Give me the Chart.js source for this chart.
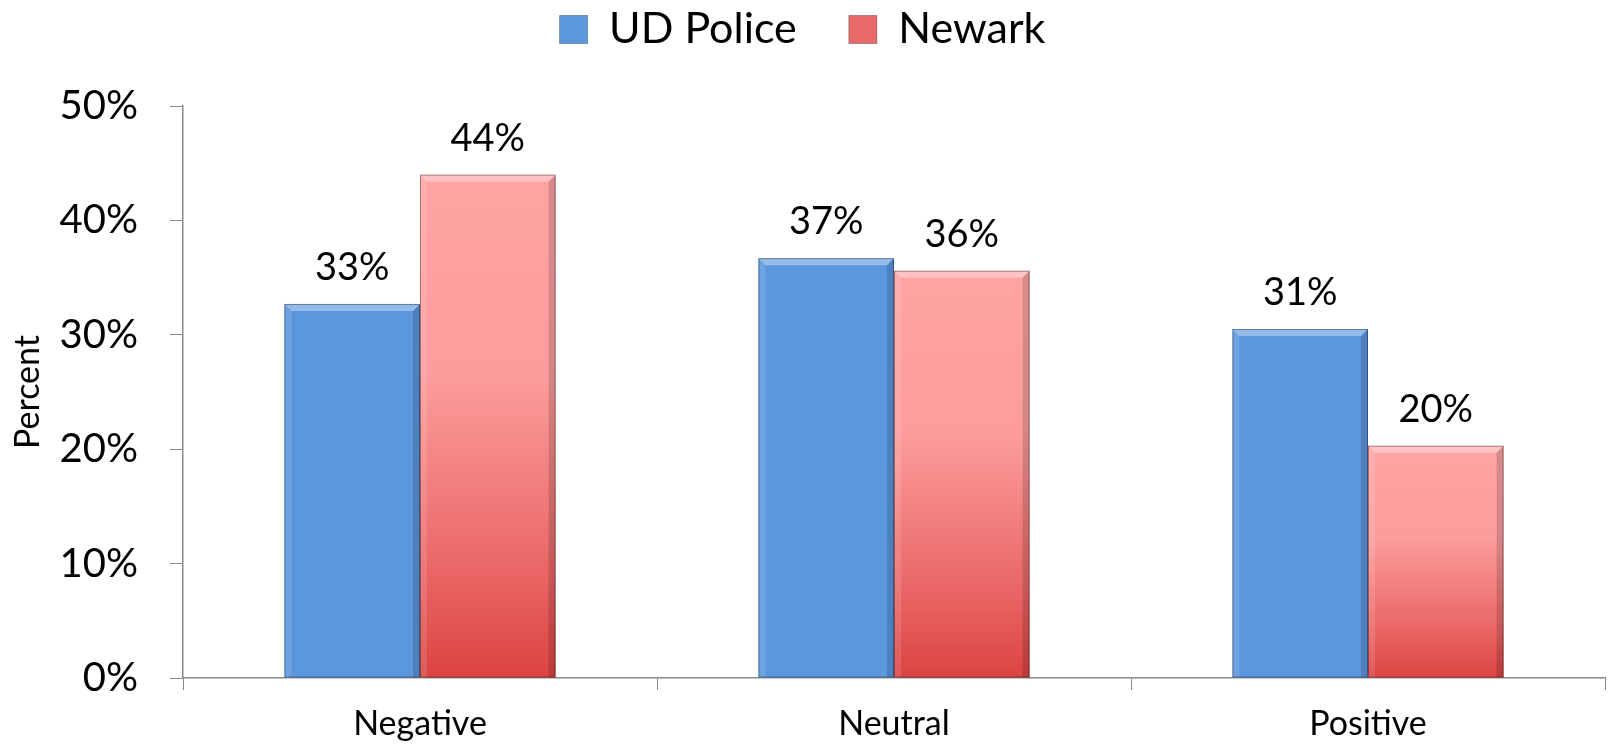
<!DOCTYPE html>
<html>
<head>
<meta charset="utf-8">
<script src="https://cdn.jsdelivr.net/npm/chart.js@4"></script>
<style>
  html, body { margin: 0; padding: 0; background: #fff; }
  #wrap { width: 1608px; height: 745px; }
</style>
</head>
<body>
<div id="wrap"><canvas id="myChart" width="1608" height="745"></canvas></div>
<script>
"use strict";

const categories = ['Negative', 'Neutral', 'Positive'];
const udPolice = [32.7, 36.7, 30.5];
const newark = [44.0, 35.6, 20.3];
const yTicks = [0, 10, 20, 30, 40, 50];

const fontName = 'Lato, "Liberation Sans", sans-serif';

// red bars go pink at top to red at bottom, one gradient per bar
function redFill(context) {
    const chart = context.chart;
    if (!chart.chartArea || context.type !== 'data') {
        return '#f08080';
    }
    const yScale = chart.scales.y;
    const top = yScale.getPixelForValue(context.raw);
    const base = yScale.getPixelForValue(0);
    const g = chart.ctx.createLinearGradient(0, top, 0, base);
    g.addColorStop(0, '#ffa3a3');
    g.addColorStop(0.4, '#fc9c9c');
    g.addColorStop(0.8, '#e96464');
    g.addColorStop(1, '#db4343');
    return g;
}

// bevel edges like the office style bars
const bevel = {
    id: 'bevel',
    afterDatasetsDraw(chart) {
        const ctx = chart.ctx;
        const b = 7;
        chart.data.datasets.forEach(function (ds, i) {
            const meta = chart.getDatasetMeta(i);
            meta.data.forEach(function (bar) {
                const x0 = bar.x - bar.width / 2;
                const x1 = bar.x + bar.width / 2;
                const y0 = bar.y;
                const y1 = bar.base;
                ctx.save();
                // top light
                ctx.fillStyle = 'rgba(255,255,255,0.35)';
                ctx.beginPath();
                ctx.moveTo(x0, y0); ctx.lineTo(x1, y0);
                ctx.lineTo(x1 - b, y0 + b); ctx.lineTo(x0 + b, y0 + b);
                ctx.closePath(); ctx.fill();
                // left light
                ctx.fillStyle = 'rgba(255,255,255,0.12)';
                ctx.beginPath();
                ctx.moveTo(x0, y0); ctx.lineTo(x0 + b, y0 + b);
                ctx.lineTo(x0 + b, y1); ctx.lineTo(x0, y1);
                ctx.closePath(); ctx.fill();
                // right dark
                ctx.fillStyle = 'rgba(0,0,0,0.15)';
                ctx.beginPath();
                ctx.moveTo(x1, y0); ctx.lineTo(x1 - b, y0 + b);
                ctx.lineTo(x1 - b, y1); ctx.lineTo(x1, y1);
                ctx.closePath(); ctx.fill();
                // outline
                ctx.strokeStyle = 'rgba(0,0,0,0.35)';
                ctx.lineWidth = 1;
                ctx.strokeRect(x0 + 0.5, y0 + 0.5, bar.width - 1, y1 - y0 - 1);
                ctx.restore();
            });
        });
    }
};

// value labels above bars
const valueLabels = {
    id: 'valueLabels',
    afterDatasetsDraw(chart) {
        const ctx = chart.ctx;
        ctx.save();
        ctx.font = '38px ' + fontName;
        ctx.fillStyle = '#000';
        ctx.textAlign = 'center';
        ctx.textBaseline = 'middle';
        chart.data.datasets.forEach(function (ds, i) {
            const meta = chart.getDatasetMeta(i);
            meta.data.forEach(function (bar, j) {
                ctx.fillText(Math.round(ds.data[j]) + '%', bar.x, bar.y - 36);
            });
        });
        ctx.restore();
    }
};

// fix legend height so the plot starts at the right place
const legendHeight = {
    id: 'legendHeight',
    beforeInit(chart) {
        const origFit = chart.legend.fit;
        chart.legend.fit = function () {
            origFit.bind(chart.legend)();
            this.height = 106;
        };
    }
};

const ctx = document.getElementById('myChart').getContext('2d');
new Chart(ctx, {
    type: 'bar',
    data: {
        labels: categories,
        datasets: [{
            label: 'UD Police',
            data: udPolice,
            backgroundColor: '#5b97de',
            borderWidth: 0
        }, {
            label: 'Newark',
            data: newark,
            backgroundColor: redFill,
            borderWidth: 0
        }]
    },
    options: {
        responsive: false,
        animation: false,
        layout: { padding: { left: 0, right: 3, top: 0, bottom: 0 } },
        datasets: {
            bar: { categoryPercentage: 0.572, barPercentage: 1 }
        },
        plugins: {
            tooltip: { enabled: false },
            legend: {
                position: 'top',
                labels: {
                    color: '#000',
                    font: { size: 43, family: fontName },
                    boxWidth: 28,
                    boxHeight: 28,
                    padding: 8,
                    generateLabels(chart) {
                        const cols = ['#5b97de', '#e86a6a'];
                        return chart.data.datasets.map(function (ds, i) {
                            return {
                                // trailing spaces widen the gap between the two items
                                text: i === 0 ? ds.label + '    ' : ds.label,
                                fillStyle: cols[i],
                                strokeStyle: 'rgba(0,0,0,0.3)',
                                lineWidth: 1,
                                fontColor: '#000',
                                datasetIndex: i
                            };
                        });
                    }
                }
            }
        },
        scales: {
            x: {
                grid: {
                    display: true,
                    drawOnChartArea: false,
                    tickLength: 12,
                    color: '#888',
                    offset: true
                },
                border: { color: '#888', width: 1.5 },
                ticks: {
                    color: '#000',
                    font: { size: 34, family: fontName },
                    padding: 14
                },
                afterFit(scale) { scale.height = 67; }
            },
            y: {
                min: 0,
                max: 50,
                afterBuildTicks(scale) {
                    scale.ticks = yTicks.map(function (v) { return { value: v }; });
                },
                grid: {
                    display: true,
                    drawOnChartArea: false,
                    tickLength: 13,
                    color: '#888'
                },
                border: { color: '#888', width: 1.5 },
                ticks: {
                    color: '#000',
                    font: { size: 40, family: fontName },
                    padding: 32,
                    callback(v) { return v + '%'; }
                },
                title: {
                    display: true,
                    text: 'Percent',
                    color: '#000',
                    font: { size: 34, family: fontName },
                    padding: { top: 8, bottom: 0 }
                },
                afterFit(scale) { scale.width = 183; }
            }
        }
    },
    plugins: [legendHeight, bevel, valueLabels]
});
</script>
</body>
</html>
